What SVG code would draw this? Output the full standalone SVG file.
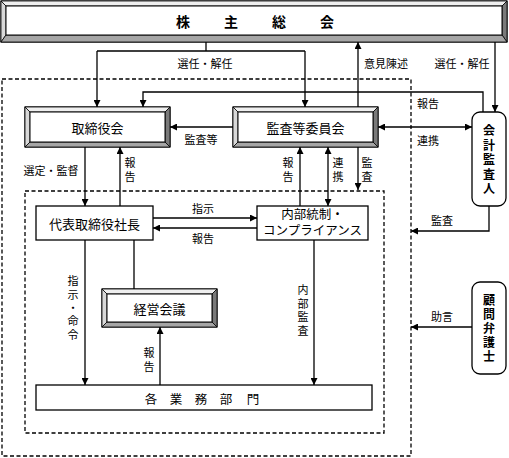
<svg xmlns="http://www.w3.org/2000/svg" width="509" height="458" viewBox="0 0 509 458">
<style>
text{font-family:"Noto Sans CJK JP","Noto Sans",sans-serif;fill:#000;}
text.v{font-family:"Liberation Sans","Noto Sans CJK JP",sans-serif;}
.lb{font-size:11px;}
.bx{font-size:13px;}
.ln{fill:none;stroke:#000;stroke-width:1.3;}
.ds{fill:none;stroke:#000;stroke-width:1.3;stroke-dasharray:4 2.5;}
.out{fill:#fff;stroke:#000;stroke-width:1.2;}
.bt{fill:#efefef;stroke:#000;stroke-width:0.8;}
.bl{fill:#d8d8d8;stroke:#000;stroke-width:0.8;}
.br{fill:#7a7a7a;stroke:#000;stroke-width:0.8;}
.bb{fill:#a6a6a6;stroke:#000;stroke-width:0.8;}
.in{fill:#fff;stroke:#000;stroke-width:1;}
.rb{fill:#fff;stroke:#000;stroke-width:1.3;}
</style>
<defs>
<marker id="ah" viewBox="0 0 10 10" refX="10" refY="5" markerWidth="7" markerHeight="7" markerUnits="userSpaceOnUse" orient="auto-start-reverse">
<path d="M0,0 L10,5 L0,10 z" fill="#000"/>
</marker>
</defs>

<!-- dashed boundaries -->
<rect class="ds" x="2" y="79" width="409" height="377"/>
<rect class="ds" x="25" y="191" width="359" height="242"/>

<g id="n-kabunushi">
<rect class="out" x="1" y="1" width="506" height="41"/>
<polygon class="bt" points="1,1 507,1 502,6 6,6"/>
<polygon class="bl" points="1,1 6,6 6,35 1,42"/>
<polygon class="br" points="507,1 507,42 502,35 502,6"/>
<polygon class="bb" points="1,42 6,35 502,35 507,42"/>
<rect class="in" x="6" y="6" width="496" height="29"/>
<text font-size="14" font-weight="bold" text-anchor="middle" dominant-baseline="central"><tspan x="183" y="21">株</tspan><tspan x="231" y="21">主</tspan><tspan x="279" y="21">総</tspan><tspan x="327" y="21">会</tspan></text>
</g>

<g id="n-torishimariyakukai">
<rect class="out" x="25" y="107" width="145" height="40"/>
<polygon class="bt" points="25,107 170,107 165,112 30,112"/>
<polygon class="bl" points="25,107 30,112 30,142 25,147"/>
<polygon class="br" points="170,107 170,147 165,142 165,112"/>
<polygon class="bb" points="25,147 30,142 165,142 170,147"/>
<rect class="in" x="30" y="112" width="135" height="30"/>
<text class="bx" x="97.5" y="127" text-anchor="middle" dominant-baseline="central">取締役会</text>
</g>

<g id="n-kansatouiinkai">
<rect class="out" x="233" y="107" width="145" height="40"/>
<polygon class="bt" points="233,107 378,107 373,112 238,112"/>
<polygon class="bl" points="233,107 238,112 238,142 233,147"/>
<polygon class="br" points="378,107 378,147 373,142 373,112"/>
<polygon class="bb" points="233,147 238,142 373,142 378,147"/>
<rect class="in" x="238" y="112" width="135" height="30"/>
<text class="bx" x="305.5" y="127" text-anchor="middle" dominant-baseline="central">監査等委員会</text>
</g>

<g id="n-kaikeikansanin">
<rect class="rb" x="472" y="112" width="34" height="94" rx="8"/>
<text class="v" font-size="12" font-weight="bold" text-anchor="middle" dominant-baseline="central"><tspan x="489" y="131">会</tspan><tspan x="489" y="145.5">計</tspan><tspan x="489" y="160">監</tspan><tspan x="489" y="174.5">査</tspan><tspan x="489" y="189">人</tspan></text>
</g>

<g id="n-komonbengoshi">
<rect class="rb" x="472" y="282" width="34" height="92" rx="8"/>
<text class="v" font-size="12" font-weight="bold" text-anchor="middle" dominant-baseline="central"><tspan x="489" y="301">顧</tspan><tspan x="489" y="315">問</tspan><tspan x="489" y="329">弁</tspan><tspan x="489" y="343">護</tspan><tspan x="489" y="357">士</tspan></text>
</g>

<g id="n-daihyo">
<rect class="rb" x="36" y="206" width="117" height="34"/>
<text class="bx" x="94.5" y="223" text-anchor="middle" dominant-baseline="central">代表取締役社長</text>
</g>

<g id="n-naibutousei">
<rect class="rb" x="257" y="206" width="111" height="34"/>
<text class="v" x="312.5" y="214.5" font-size="12.5" text-anchor="middle" dominant-baseline="central">内部統制・</text>
<text class="v" x="312.5" y="231" font-size="12.5" text-anchor="middle" dominant-baseline="central">コンプライアンス</text>
</g>

<g id="n-keieikaigi">
<rect class="out" x="102" y="289" width="115" height="38"/>
<polygon class="bt" points="102,289 217,289 212,294 107,294"/>
<polygon class="bl" points="102,289 107,294 107,322 102,327"/>
<polygon class="br" points="217,289 217,327 212,322 212,294"/>
<polygon class="bb" points="102,327 107,322 212,322 217,327"/>
<rect class="in" x="107" y="294" width="105" height="28"/>
<text class="bx" x="159.5" y="308" text-anchor="middle" dominant-baseline="central">経営会議</text>
</g>

<g id="n-kakugyoumu">
<rect class="rb" x="36" y="385" width="336" height="25"/>
<text font-size="12.5" text-anchor="middle" dominant-baseline="central"><tspan x="151" y="397.5">各</tspan><tspan x="176" y="397.5">業</tspan><tspan x="201" y="397.5">務</tspan><tspan x="226" y="397.5">部</tspan><tspan x="253" y="397.5">門</tspan></text>
</g>

<g id="connectors">
<path class="ln" d="M206,42 V51 M97,51 H305"/>
<path class="ln" d="M97,51 V107" marker-end="url(#ah)"/>
<path class="ln" d="M305,51 V107" marker-end="url(#ah)"/>
<path class="ln" d="M358,107 V42" marker-end="url(#ah)"/>
<path class="ln" d="M495,42 V112" marker-end="url(#ah)"/>
<path class="ln" d="M483,112 V92 H143 V107" marker-end="url(#ah)"/>
<path class="ln" d="M233,127 H170" marker-end="url(#ah)"/>
<path class="ln" d="M378,127 H472" marker-start="url(#ah)" marker-end="url(#ah)"/>
<path class="ln" d="M85,147 V206" marker-end="url(#ah)"/>
<path class="ln" d="M120,206 V147" marker-end="url(#ah)"/>
<path class="ln" d="M153,218 H257" marker-end="url(#ah)"/>
<path class="ln" d="M257,228 H153" marker-end="url(#ah)"/>
<path class="ln" d="M300,206 V147" marker-end="url(#ah)"/>
<path class="ln" d="M328,206 V147" marker-start="url(#ah)" marker-end="url(#ah)"/>
<path class="ln" d="M358,147 V190" marker-end="url(#ah)"/>
<path class="ln" d="M489,206 V231 H411" marker-end="url(#ah)"/>
<path class="ln" d="M472,327 H411" marker-end="url(#ah)"/>
<path class="ln" d="M85,240 V385" marker-end="url(#ah)"/>
<path class="ln" d="M134,240 V289"/>
<path class="ln" d="M160,385 V327" marker-end="url(#ah)"/>
<path class="ln" d="M314,240 V385" marker-end="url(#ah)"/>
</g>

<g id="labels">
<text class="lb" x="205" y="63" text-anchor="middle" dominant-baseline="central">選任・解任</text>
<text class="lb" x="386" y="63" text-anchor="middle" dominant-baseline="central">意見陳述</text>
<text class="lb" x="462" y="63" text-anchor="middle" dominant-baseline="central">選任・解任</text>
<text class="lb" x="428" y="103" text-anchor="middle" dominant-baseline="central">報告</text>
<text class="lb" x="428" y="140" text-anchor="middle" dominant-baseline="central">連携</text>
<text class="lb" x="201" y="139" text-anchor="middle" dominant-baseline="central">監査等</text>
<text class="lb" x="51" y="170" text-anchor="middle" dominant-baseline="central">選定・監督</text>
<text class="lb v" text-anchor="middle" dominant-baseline="central"><tspan x="130" y="163">報</tspan><tspan x="130" y="177">告</tspan></text>
<text class="lb v" text-anchor="middle" dominant-baseline="central"><tspan x="288" y="163">報</tspan><tspan x="288" y="177">告</tspan></text>
<text class="lb v" text-anchor="middle" dominant-baseline="central"><tspan x="338" y="163">連</tspan><tspan x="338" y="177">携</tspan></text>
<text class="lb v" text-anchor="middle" dominant-baseline="central"><tspan x="367" y="163">監</tspan><tspan x="367" y="177">査</tspan></text>
<text class="lb" x="203" y="208" text-anchor="middle" dominant-baseline="central">指示</text>
<text class="lb" x="203" y="238" text-anchor="middle" dominant-baseline="central">報告</text>
<text class="lb" x="442" y="220" text-anchor="middle" dominant-baseline="central">監査</text>
<text class="lb" x="442" y="316" text-anchor="middle" dominant-baseline="central">助言</text>
<text class="lb v" text-anchor="middle" dominant-baseline="central"><tspan x="73" y="281">指</tspan><tspan x="73" y="295">示</tspan><tspan x="73" y="308">・</tspan><tspan x="73" y="321">命</tspan><tspan x="73" y="335">令</tspan></text>
<text class="lb v" text-anchor="middle" dominant-baseline="central"><tspan x="303" y="290">内</tspan><tspan x="303" y="303.5">部</tspan><tspan x="303" y="317">監</tspan><tspan x="303" y="330.5">査</tspan></text>
<text class="lb v" text-anchor="middle" dominant-baseline="central"><tspan x="149" y="353">報</tspan><tspan x="149" y="367">告</tspan></text>
</g>
</svg>
